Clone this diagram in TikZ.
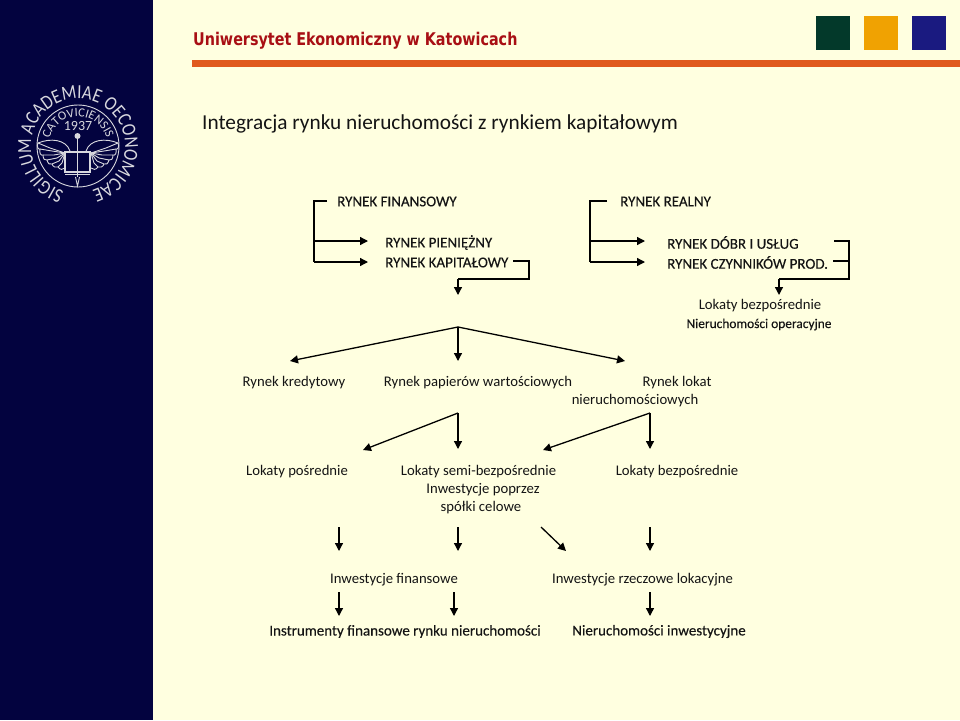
\documentclass[tikz,border=0pt]{standalone}
\usepackage{fontspec}
\setmainfont{Carlito}
\newfontfamily\semib[FakeBold=0.2]{Carlito}
\newfontfamily\headf[FakeStretch=0.82]{DejaVu Sans}
\newfontfamily\sealf[FakeStretch=0.85]{Carlito}
\usetikzlibrary{arrows.meta,decorations.text}
\definecolor{bgc}{HTML}{FFFFE0}
\definecolor{navy}{HTML}{03033F}
\definecolor{barc}{HTML}{E05A1E}
\definecolor{sqg}{HTML}{03392A}
\definecolor{sqo}{HTML}{F0A202}
\definecolor{sqb}{HTML}{1A1A80}
\definecolor{headc}{HTML}{A80F14}
\definecolor{ink}{HTML}{141414}
\definecolor{seal}{HTML}{D8D8DE}
\tikzset{
  lbl/.style={inner sep=0pt,yshift=-1.5pt,text=ink,font=\fontsize{14.7}{16}\selectfont},
  caps/.style={inner sep=0pt,yshift=-0.5pt,text=ink,anchor=west,font=\semib\fontsize{15}{16}\selectfont},
  strong/.style={inner sep=0pt,yshift=-0.5pt,text=ink,font=\semib\fontsize{15}{16}\selectfont},
  arr/.style={draw=black,line width=1.3pt,-{Triangle[length=8pt,width=8pt]}},
  lin/.style={draw=black,line width=1.1pt},
  sealline/.style={draw=seal,line width=0.9pt}
}
\begin{document}
\begin{tikzpicture}[x=1pt,y=-1pt]
\useasboundingbox (0,0) rectangle (960,720);
\fill[bgc] (0,0) rectangle (960,720);
\fill[navy] (0,0) rectangle (153,720);
\fill[barc] (192,60) rectangle (960,67);
\fill[sqg] (816,16) rectangle (850,50);
\fill[sqo] (864,16) rectangle (898,50);
\fill[sqb] (912,16) rectangle (946,50);
\node[anchor=west,inner sep=0pt,yshift=-2pt,text=headc,font=\headf\bfseries\fontsize{17.5}{18}\selectfont] (head) at (193,39) {Uniwersytet Ekonomiczny w Katowicach};
\node[anchor=west,inner sep=0pt,yshift=-2pt,text=ink,font=\fontsize{21.3}{24}\selectfont] (title) at (202,122) {Integracja rynku nieruchomości z rynkiem kapitałowym};
% seal
\begin{scope}[shift={(78,146)},y=1pt]
\draw[sealline] (0,0) circle (41);
\draw[decorate,decoration={text along path,text align=center,text color=seal,
  text={|\sealf\fontsize{20}{20}\selectfont|SIGILLUM ACADEMIAE OECONOMICAE}}]
  (258:47) arc[start angle=258,end angle=-78,radius=47];
\draw[decorate,decoration={text along path,text align=center,text color=seal,
  text={|\fontsize{12.5}{13}\selectfont|CATOVICIENSIS}}]
  (178:29.5) arc[start angle=178,end angle=2,radius=29.5];
\node[inner sep=0pt,text=seal,font=\fontsize{14}{14}\selectfont] (yr) at (0,20) {1937};
\draw[sealline,line width=1.2pt] (-13,-6) rectangle (12,-26);
\draw[sealline] (-0.5,-6) -- (-0.5,-26);
\fill[seal] (-0.5,10) circle (3);
\draw[sealline,line width=1.4pt] (-0.5,8) -- (-0.5,-6);
\draw[sealline,line width=1.4pt] (-0.5,-26) -- (-0.5,-31);
\draw[sealline] (-2.5,-31) -- (-0.5,-40) -- (1.5,-31);
\draw[sealline] (-13,-28) -- (12,-28);
\foreach \s in {-1,1}{
  \draw[sealline] (\s*8,-5) .. controls (\s*12,7) and (\s*28,8) .. (\s*40,3);
  \foreach \tx/\ty/\cx/\cy in {40/3/28/-2,38/-3/26/-5,35/-9/24/-9,31/-14/21/-12,26/-18/19/-15,20/-21/16/-17}{
    \draw[sealline] (\s*13,-7) -- (\s*\cx,\cy) -- (\s*\tx,\ty);
  }
  \draw[sealline] (\s*40,3) .. controls (\s*42,-1) and (\s*39,-4) .. (\s*38,-3)
    .. controls (\s*39,-7) and (\s*37,-10) .. (\s*35,-9)
    .. controls (\s*35,-13) and (\s*33,-15) .. (\s*31,-14)
    .. controls (\s*30,-18) and (\s*28,-19) .. (\s*26,-18)
    .. controls (\s*25,-21) and (\s*22,-22) .. (\s*20,-21)
    .. controls (\s*18,-24) and (\s*15,-24) .. (\s*13,-22);
}
\end{scope}
% text
\node[caps] (rf) at (337,201) {RYNEK FINANSOWY};
\node[caps] (rp) at (385,242) {RYNEK PIENIĘŻNY};
\node[caps] (rk) at (385,262) {RYNEK KAPITAŁOWY};
\node[caps] (rr) at (620,201) {RYNEK REALNY};
\node[caps] (rd) at (667,242) {RYNEK DÓBR I USŁUG};
\node[caps] (rc) at (667,262) {RYNEK CZYNNIKÓW PROD.};
\node[lbl] (lb1) at (760,304) {Lokaty bezpośrednie};
\node[strong,font=\semib\fontsize{13.4}{14}\selectfont] (nop) at (759,324) {Nieruchomości operacyjne};
\node[lbl] (rkr) at (294,381) {Rynek kredytowy};
\node[lbl] (rpw) at (478,381) {Rynek papierów wartościowych};
\node[lbl] (rl1) at (677,381) {Rynek lokat};
\node[lbl] (rl2) at (635,399) {nieruchomościowych};
\node[lbl] (lp) at (297,470) {Lokaty pośrednie};
\node[lbl] (ls) at (478.5,470) {Lokaty semi-bezpośrednie};
\node[lbl] (ip) at (483,488) {Inwestycje poprzez};
\node[lbl] (sc) at (481,506) {spółki celowe};
\node[lbl] (lb2) at (677,470) {Lokaty bezpośrednie};
\node[lbl] (if) at (394,578) {Inwestycje finansowe};
\node[lbl] (ir) at (642.5,578) {Inwestycje rzeczowe lokacyjne};
\node[strong] (ifr) at (405,631) {Instrumenty finansowe rynku nieruchomości};
\node[strong] (ni) at (659,631) {Nieruchomości inwestycyjne};
% coordinates
\foreach \n/\x/\y in {
 a1/327/201,a2/314/201,a3/314/262,a4/368/262,a5/314/241,a6/368/241,
 b1/513/261,b2/529/261,b3/529/279,b4/458/279,b5/458/295,
 c0/458/327,c1/290/361,c2/458/361,c3/625/361,
 d1/607/201,d2/590/201,d3/590/262,d4/645/262,d5/590/241,d6/645/241,
 e1/834/241,e2/849/241,e3/849/279,e4/779/279,e5/779/295,e6/833/261,e7/849/261,
 f0/458/413,f1/363/450,f2/458/449,g0/650/413,g1/543/450,g2/650/449,
 h1/339/527,h2/339/551,i1/458/527,i2/458/551,j1/541/527,j2/566/551,k1/650/527,k2/650/551,
 l1/339/592,l2/339/616,m1/454/592,m2/454/616,n1/650/592,n2/650/616}{
  \coordinate (\n) at (\x,\y);
}
\draw[lin] (a1) -- (a2) -- (a3);
\draw[arr] (a3) -- (a4);
\draw[arr] (a5) -- (a6);
\draw[lin] (b1) -- (b2) -- (b3) -- (b4);
\draw[arr] (b4) -- (b5);
\draw[arr] (c0) -- (c1);
\draw[arr] (c0) -- (c2);
\draw[arr] (c0) -- (c3);
\draw[lin] (d1) -- (d2) -- (d3);
\draw[arr] (d3) -- (d4);
\draw[arr] (d5) -- (d6);
\draw[lin] (e1) -- (e2) -- (e3) -- (e4);
\draw[lin] (e6) -- (e7);
\draw[arr] (e4) -- (e5);
\draw[arr] (f0) -- (f1);
\draw[arr] (f0) -- (f2);
\draw[arr] (g0) -- (g1);
\draw[arr] (g0) -- (g2);
\draw[arr] (h1) -- (h2);
\draw[arr] (i1) -- (i2);
\draw[arr] (j1) -- (j2);
\draw[arr] (k1) -- (k2);
\draw[arr] (l1) -- (l2);
\draw[arr] (m1) -- (m2);
\draw[arr] (n1) -- (n2);
\end{tikzpicture}
\end{document}
